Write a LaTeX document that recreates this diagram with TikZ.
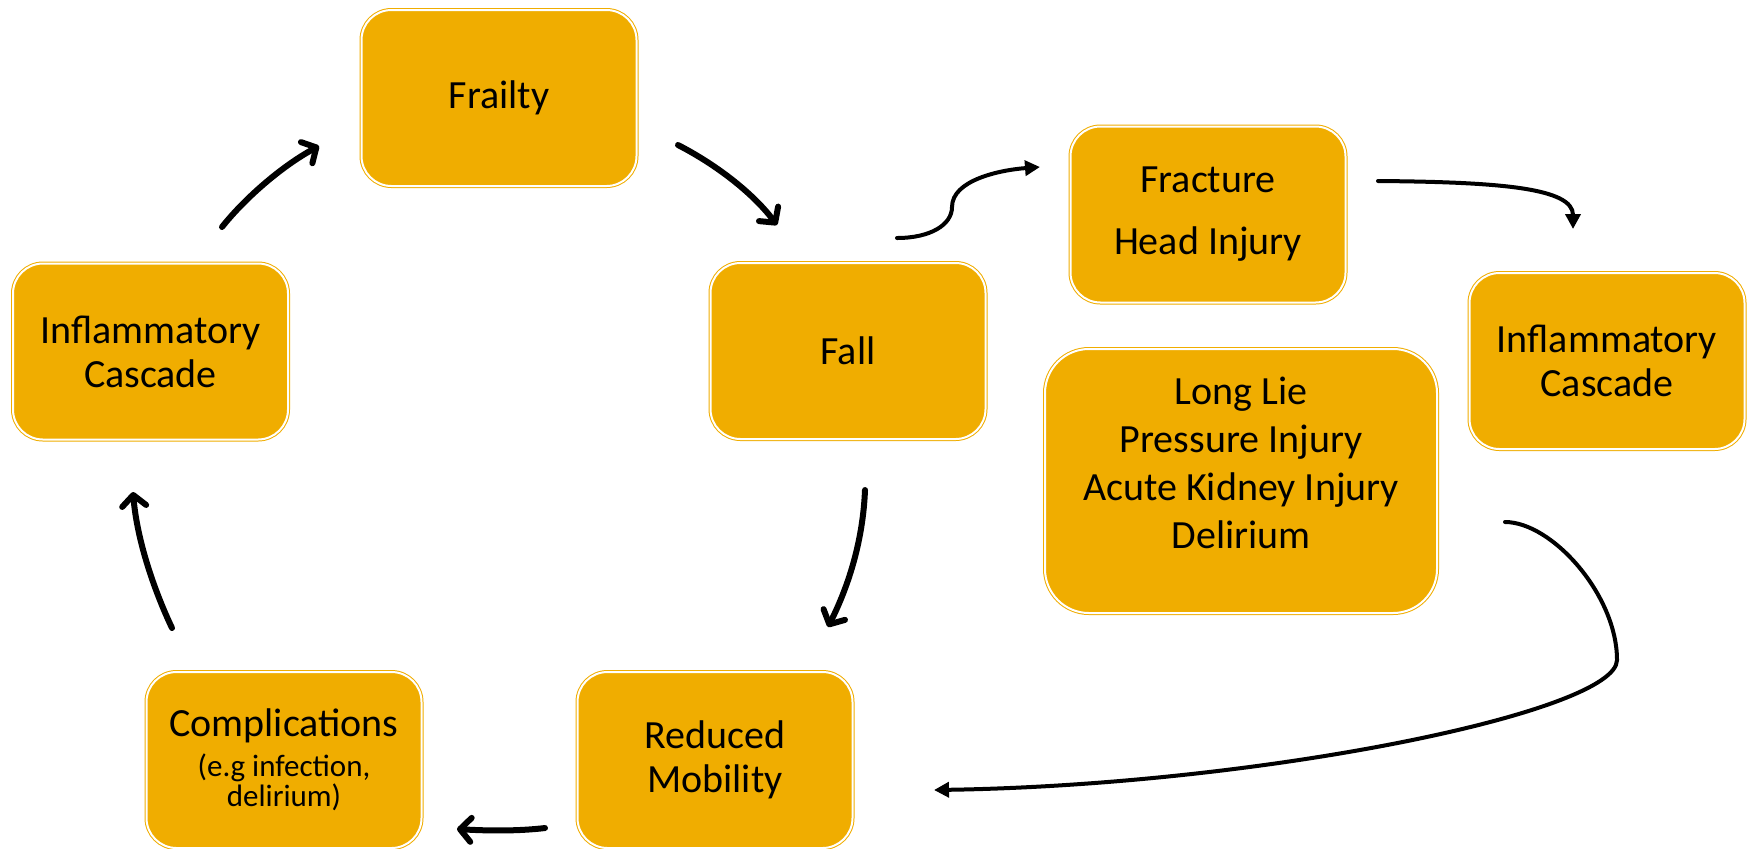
\documentclass[tikz,border=0pt]{standalone}
\usepackage{fontspec}
\setmainfont{Carlito}
\usetikzlibrary{arrows.meta}
\definecolor{boxc}{RGB}{240,173,0}
\begin{document}
\begin{tikzpicture}[x=0.5pt,y=-0.5pt,
  box/.style={draw=boxc, double=white, line width=0.5pt, double distance=1pt,
    fill=boxc, rounded corners=15pt, minimum width=137.5pt, minimum height=88pt,
    align=center, font=\fontsize{20}{22}\selectfont, inner sep=2pt},
  cyc/.style={line width=3pt, line cap=round,
    -{Straight Barb[length=5.5pt,width=12pt,round]}},
  conn/.style={line width=2pt, line cap=round,
    -{Triangle[length=7.5pt,width=7.5pt]}}]
\useasboundingbox (0,0) rectangle (1750,848);

\node[box] (frailty) at (499,98) {Frailty};
\node[box] (fall) at (848,351) {Fall};
\node[box] (fract) at (1208,214.5) {Fracture\\[9pt]Head Injury};
\node[box] (inflr) at (1607,361) {Inflammatory\\Cascade};
\node[box, rounded corners=22pt, minimum width=196pt, minimum height=132pt,
  font=\fontsize{20}{24}\selectfont] (long) at (1241,481)
  {\raisebox{7.25pt}[\height][\depth]{\begin{tabular}{@{}c@{}}Long Lie\\Pressure Injury\\Acute Kidney Injury\\Delirium\end{tabular}}};
\node[box] (infll) at (150.5,351.5) {Inflammatory\\Cascade};
\node[box] (comp) at (284,760) {Complications\\[-2pt]\fontsize{15.5}{15}\selectfont(e.g infection,\\[-7pt]\fontsize{15.5}{15}\selectfont delirium)};
\node[box] (red) at (715,760) {Reduced\\Mobility};

% free ends of connectors
\coordinate (a1s) at (222,227);  \coordinate (a1e) at (319,146);
\coordinate (a2s) at (678,145);  \coordinate (a2e) at (777,225);
\coordinate (a3s) at (865,490);  \coordinate (a3e) at (828,627);
\coordinate (a4s) at (545,828);  \coordinate (a4e) at (457,829);
\coordinate (a5s) at (172,628);  \coordinate (a5e) at (133,492);
\coordinate (b1s) at (897,238);  \coordinate (b1m) at (952,207); \coordinate (b1e) at (1040,167);
\coordinate (b2s) at (1378,181); \coordinate (b2e) at (1573,229);
\coordinate (b3s) at (1505,522); \coordinate (b3m) at (1617,660); \coordinate (b3e) at (934,790);

\draw[cyc] (a1s) .. controls (245,198) and (282,166) .. (a1e);
\draw[cyc] (a2s) .. controls (715,164) and (752,192) .. (a2e);
\draw[cyc] (a3s) .. controls (863,540) and (849,585) .. (a3e);
\draw[cyc] (a4s) .. controls (520,831) and (490,831) .. (a4e);
\draw[cyc] (a5s) .. controls (154,590) and (137,540) .. (a5e);

\draw[conn] (b1s) .. controls (930,238) and (952,225) .. (b1m)
  .. controls (952,180) and (1000,170) .. (b1e);
\draw[conn] (b2s) .. controls (1500,182) and (1573,188) .. (b2e);
\draw[conn] (b3s) .. controls (1552,522) and (1617,595) .. (b3m)
  .. controls (1617,712) and (1260,785) .. (b3e);
\end{tikzpicture}
\end{document}
